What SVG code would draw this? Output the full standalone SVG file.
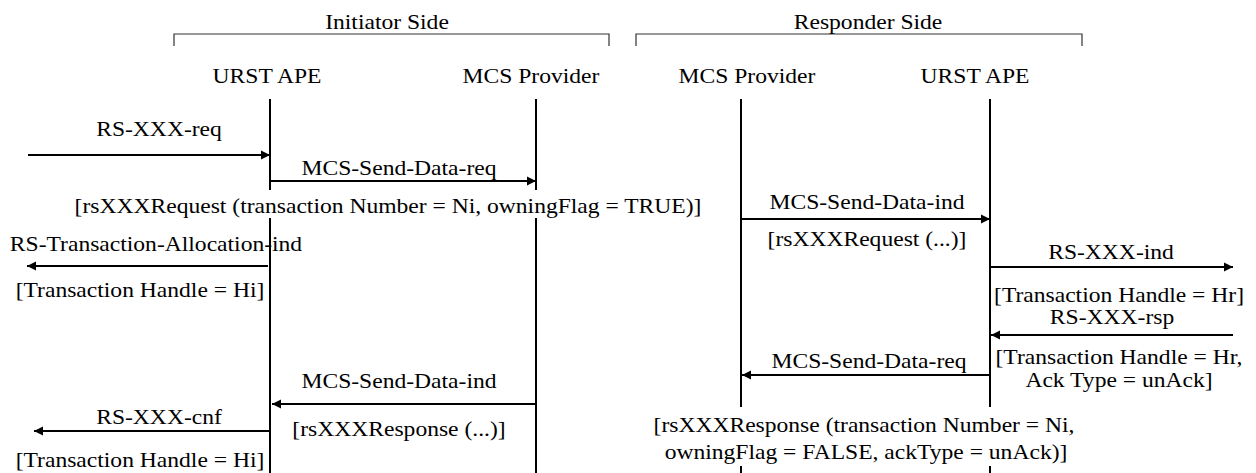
<svg xmlns="http://www.w3.org/2000/svg" width="1256" height="473" viewBox="0 0 1256 473">
<style>
  text { font-family: "Liberation Serif", Tinos, "Times New Roman", "Nimbus Roman", "DejaVu Serif", serif; font-size: 20.5px; fill: #000; text-anchor: middle; }
  .life { stroke: #000; stroke-width: 2; fill: none; }
  .msg { stroke: #000; stroke-width: 2; fill: none; marker-end: url(#ah); }
  .brk { stroke: #333; stroke-width: 1.2; fill: none; }
  .bg { fill: #fff; stroke: none; }
</style>
<defs>
  <marker id="ah" markerUnits="userSpaceOnUse" markerWidth="10" markerHeight="10" refX="9" refY="5" orient="auto">
    <path d="M0,0.5 L9,5 L0,9.5 z" fill="#000"/>
  </marker>
</defs>
<rect width="1256" height="473" fill="#fff"/>

<g id="initiator-side">
  <path class="brk" d="M174,46 V34 H609 V46"/>
  <text font-family="Liberation Serif, serif" transform="translate(387,29) scale(1.15,1)">Initiator Side</text>
</g>
<g id="responder-side">
  <path class="brk" d="M636,46 V34 H1082 V46"/>
  <text transform="translate(868,29) scale(1.15,1)">Responder Side</text>
</g>

<g id="init-urst-ape">
  <text transform="translate(267,83) scale(1.15,1)">URST APE</text>
  <line class="life" x1="270" y1="99" x2="270" y2="473"/>
</g>
<g id="init-mcs-provider">
  <text transform="translate(531,83) scale(1.15,1)">MCS Provider</text>
  <line class="life" x1="536" y1="99" x2="536" y2="473"/>
</g>
<g id="resp-mcs-provider">
  <text transform="translate(747,83) scale(1.15,1)">MCS Provider</text>
  <line class="life" x1="741" y1="99" x2="741" y2="473"/>
</g>
<g id="resp-urst-ape">
  <text transform="translate(975,83) scale(1.15,1)">URST APE</text>
  <line class="life" x1="990" y1="99" x2="990" y2="473"/>
</g>

<g id="connectors">
  <line class="msg" x1="28" y1="155" x2="270" y2="155"/>
  <line class="msg" x1="270" y1="181" x2="536" y2="181"/>
  <line class="msg" x1="268" y1="266" x2="27" y2="266"/>
  <line class="msg" x1="741" y1="219" x2="990" y2="219"/>
  <line class="msg" x1="990" y1="267" x2="1233" y2="267"/>
  <line class="msg" x1="1233" y1="335" x2="991" y2="335"/>
  <line class="msg" x1="990" y1="375" x2="742" y2="375"/>
  <line class="msg" x1="535" y1="404" x2="272" y2="404"/>
  <line class="msg" x1="270" y1="431" x2="34" y2="431"/>
</g>

<g id="labels">
  <text transform="translate(159,136) scale(1.15,1)">RS-XXX-req</text>
  <text transform="translate(399,175) scale(1.15,1)">MCS-Send-Data-req</text>
  <rect class="bg" x="72" y="190" width="636" height="28"/>
  <text transform="translate(388,213) scale(1.15,1)">[rsXXXRequest (transaction Number = Ni, owningFlag = TRUE)]</text>
  <text transform="translate(156,251) scale(1.15,1)">RS-Transaction-Allocation-ind</text>
  <text transform="translate(140,297) scale(1.15,1)">[Transaction Handle = Hi]</text>
  <text transform="translate(867,209) scale(1.15,1)">MCS-Send-Data-ind</text>
  <text transform="translate(867,246) scale(1.15,1)">[rsXXXRequest (...)]</text>
  <text transform="translate(1111,259) scale(1.15,1)">RS-XXX-ind</text>
  <text transform="translate(1119,302) scale(1.15,1)">[Transaction Handle = Hr]</text>
  <text transform="translate(1112,324) scale(1.15,1)">RS-XXX-rsp</text>
  <text transform="translate(1119,364) scale(1.15,1)">[Transaction Handle = Hr,</text>
  <text transform="translate(1119,387) scale(1.15,1)">Ack Type = unAck]</text>
  <text transform="translate(869,368) scale(1.15,1)">MCS-Send-Data-req</text>
  <text transform="translate(399,388) scale(1.15,1)">MCS-Send-Data-ind</text>
  <text transform="translate(159,424) scale(1.15,1)">RS-XXX-cnf</text>
  <text transform="translate(399,436) scale(1.15,1)">[rsXXXResponse (...)]</text>
  <text transform="translate(140,467) scale(1.15,1)">[Transaction Handle = Hi]</text>
  <rect class="bg" x="652" y="407" width="424" height="59"/>
  <text transform="translate(864,432) scale(1.15,1)">[rsXXXResponse (transaction Number = Ni,</text>
  <text transform="translate(866,459) scale(1.15,1)">owningFlag = FALSE, ackType = unAck)]</text>
</g>
</svg>
